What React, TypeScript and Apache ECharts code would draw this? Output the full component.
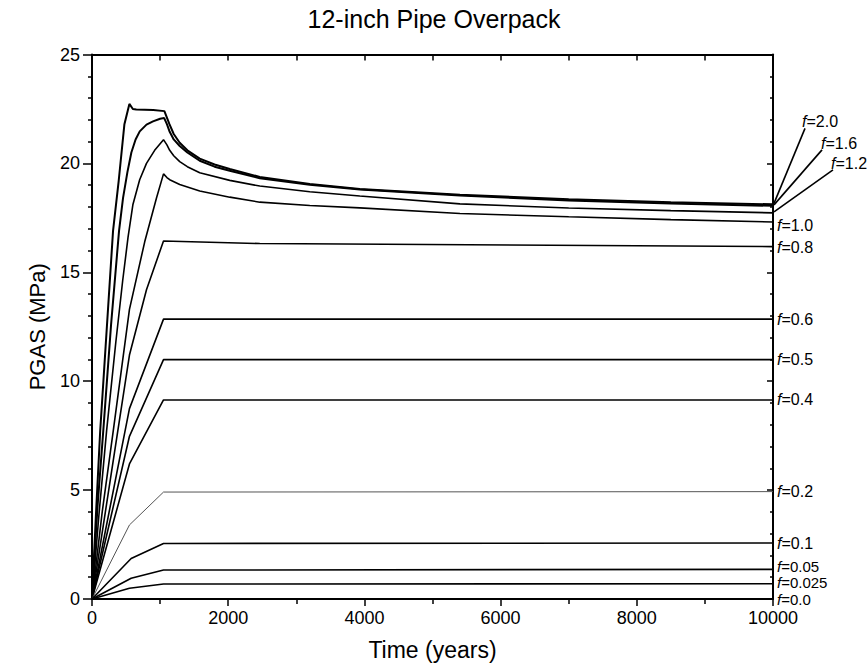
import React, { useEffect, useRef } from "react";
import * as echarts from "echarts";

const FONT = '"Liberation Sans", Arial, Helvetica, sans-serif';

const titleText = "12-inch Pipe Overpack";
const xName = "Time (years)";
const yName = "PGAS (MPa)";

// [time (years), PGAS (MPa)]
const f20: [number, number][] = [[0,0],[60,4.0],[120,7.7],[200,11.6],[309,16.9],[392,19.2],[476,21.8],[549,22.73],[600,22.5],[650,22.47],[900,22.45],[1063,22.4],[1100,22.1],[1137,21.8],[1200,21.35],[1288,20.95],[1400,20.6],[1582,20.22],[1800,19.95],[2023,19.74],[2464,19.38],[3198,19.06],[3933,18.83],[5403,18.56],[7000,18.35],[8500,18.22],[10000,18.12]];
const f16: [number, number][] = [[0,0],[80,4.2],[166,7.74],[280,12.6],[397,16.9],[456,18.42],[520,19.6],[578,20.5],[640,21.1],[701,21.47],[800,21.78],[896,21.93],[1000,22.05],[1060,22.08],[1100,21.8],[1141,21.45],[1200,21.1],[1288,20.8],[1400,20.5],[1582,20.12],[1800,19.85],[2023,19.66],[2464,19.32],[3198,19.02],[3933,18.8],[5403,18.53],[7000,18.3],[8500,18.16],[10000,18.05]];
const f12: [number, number][] = [[0,0],[100,3.8],[215,7.74],[350,11.8],[450,14.6],[529,16.6],[600,18.1],[700,19.25],[800,20.0],[920,20.6],[1050,21.09],[1100,20.85],[1141,20.6],[1200,20.35],[1288,20.08],[1400,19.85],[1582,19.57],[2023,19.22],[2464,18.96],[3198,18.7],[3933,18.5],[5403,18.14],[7000,17.95],[8500,17.83],[10000,17.73]];
const f10: [number, number][] = [[0,0],[150,4.0],[313,7.74],[550,13.3],[774,16.4],[946,18.4],[1050,19.52],[1100,19.35],[1141,19.25],[1288,19.03],[1582,18.73],[2023,18.45],[2464,18.22],[3198,18.07],[3933,17.96],[5403,17.7],[7000,17.55],[8500,17.42],[10000,17.31]];
const f08: [number, number][] = [[0,0],[380,7.74],[550,11.2],[800,14.2],[1050,16.44],[2464,16.32],[10000,16.18]];
const f06: [number, number][] = [[0,0],[550,8.74],[1050,12.85],[10000,12.85]];
const f05: [number, number][] = [[0,0],[550,7.47],[1050,10.99],[10000,10.99]];
const f04: [number, number][] = [[0,0],[550,6.2],[1050,9.14],[10000,9.14]];
const f02: [number, number][] = [[0,0],[550,3.4],[1050,4.91],[10000,4.93]];
const f01: [number, number][] = [[0,0],[575,1.86],[1050,2.55],[10000,2.57]];
const f005: [number, number][] = [[0,0],[575,0.95],[1050,1.33],[10000,1.36]];
const f0025: [number, number][] = [[0,0],[550,0.49],[1050,0.69],[10000,0.7]];
const f00: [number, number][] = [[0,0],[10000,0]];

const curveData = [f20, f16, f12, f10, f08, f06, f05, f04, f02, f01, f005, f0025, f00];
const curveLabels = ["2.0", "1.6", "1.2", "1.0", "0.8", "0.6", "0.5", "0.4", "0.2", "0.1", "0.05", "0.025", "0.0"];

const labelOffsets: Record<string, [number, number]> = {
  "2.0": [25, -83],
  "1.6": [44, -62],
  "1.2": [54, -49],
  "1.0": [0, 4],
  "0.8": [0, 1],
  "0.05": [0, -3],
  "0.025": [0, -1],
  "0.0": [0, 0],
};
const leaderOffsets: Record<string, [number, number]> = {
  "2.0": [32, -76],
  "1.6": [49, -56],
  "1.2": [60, -43],
};
const smallLabels = ["0.05", "0.025", "0.0"];

const xTicks = { min: 0, max: 10000, interval: 2000 };
const yTicks = { min: 0, max: 25, interval: 5 };

export default function App() {
  const ref = useRef<HTMLDivElement>(null);
  useEffect(() => {
    if (!ref.current) return;
    const chart = echarts.init(ref.current, null, { renderer: "svg" });
    const axisLine = { show: true, onZero: false, lineStyle: { color: "#000", width: 2 } };
    const tickStyle = { color: "#000", width: 1.5 };
    const series = curveData.map((d, i) => {
      const lab = curveLabels[i];
      const thin = lab === "0.2";
      const fs = smallLabels.includes(lab) ? 15 : 16;
      return {
        type: "line",
        name: "f=" + lab,
        data: d,
        xAxisIndex: 0,
        yAxisIndex: 0,
        symbol: "none",
        showSymbol: false,
        silent: true,
        clip: false,
        z: 3,
        lineStyle: { color: thin ? "#555" : "#000", width: thin ? 1 : (i < 2 ? 2 : 1.6) },
        emphasis: { disabled: true },
        endLabel: {
          show: true,
          distance: 4,
          offset: labelOffsets[lab] || [0, 0],
          formatter: "{i|f}{n|=" + lab + "}",
          rich: {
            i: { fontStyle: "italic", fontSize: fs, fontFamily: FONT, color: "#000", lineHeight: fs },
            n: { fontSize: fs, fontFamily: FONT, color: "#000", lineHeight: fs },
          },
        },
      };
    });
    chart.setOption({
      animation: false,
      backgroundColor: "#fff",
      title: {
        text: titleText,
        left: "center",
        top: 1,
        textStyle: { fontFamily: FONT, fontSize: 25, fontWeight: "normal", color: "#000" },
      },
      grid: { left: 92, right: 95, top: 54.5, bottom: 69, containLabel: false },
      xAxis: [
        {
          type: "value",
          position: "bottom",
          ...xTicks,
          axisLine,
          axisTick: { show: true, length: 7, lineStyle: tickStyle },
          minorTick: { show: true, splitNumber: 2, length: 5, lineStyle: tickStyle },
          splitLine: { show: false },
          axisLabel: {
            color: "#000",
            fontSize: 18,
            fontFamily: FONT,
            margin: 10,
            formatter: (v: number) => String(v),
          },
          name: xName,
          nameLocation: "middle",
          nameGap: 39,
          nameTextStyle: { color: "#000", fontSize: 23, fontFamily: FONT },
        },
        {
          type: "value",
          position: "top",
          min: 0,
          max: 10000,
          interval: 1000,
          axisLine,
          axisTick: { show: true, inside: true, length: 6, lineStyle: tickStyle },
          splitLine: { show: false },
          axisLabel: { show: false },
        },
      ],
      yAxis: [
        {
          type: "value",
          position: "left",
          ...yTicks,
          axisLine,
          axisTick: { show: true, length: 9, lineStyle: tickStyle },
          minorTick: { show: true, splitNumber: 5, length: 4, lineStyle: tickStyle },
          splitLine: { show: false },
          axisLabel: {
            color: "#000",
            fontSize: 18,
            fontFamily: FONT,
            margin: 12,
            formatter: (v: number) => String(v),
          },
          name: yName,
          nameLocation: "middle",
          nameGap: 44,
          nameRotate: 90,
          nameTextStyle: { color: "#000", fontSize: 22, fontFamily: FONT },
        },
        {
          type: "value",
          position: "right",
          ...yTicks,
          axisLine,
          axisTick: { show: true, inside: true, length: 6, lineStyle: tickStyle },
          minorTick: { show: true, splitNumber: 5, length: 3, lineStyle: tickStyle },
          splitLine: { show: false },
          axisLabel: { show: false },
        },
      ],
      series,
    });
    const graphics: any[] = [];
    curveData.forEach((d, i) => {
      const lab = curveLabels[i];
      const lo = leaderOffsets[lab];
      if (!lo) return;
      const last = d[d.length - 1];
      const p = chart.convertToPixel({ xAxisIndex: 0, yAxisIndex: 0 }, last) as number[];
      graphics.push({
        type: "line",
        silent: true,
        z: 10,
        shape: { x1: p[0] + 1, y1: p[1] - 1, x2: p[0] + lo[0], y2: p[1] + lo[1] },
        style: { stroke: "#000", lineWidth: 1.6 },
      });
    });
    chart.setOption({ graphic: graphics });
    return () => chart.dispose();
  }, []);
  return (
    <div
      ref={ref}
      style={{ position: "fixed", left: 0, top: 0, width: 868, height: 668, background: "#fff" }}
    />
  );
}
